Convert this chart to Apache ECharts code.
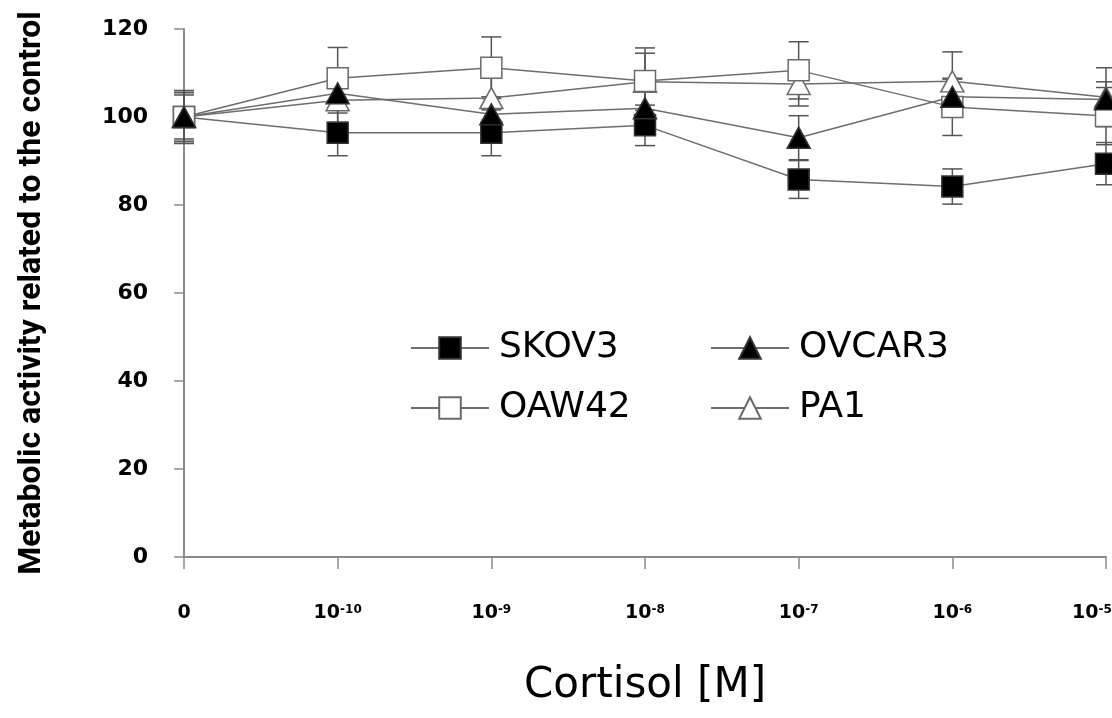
<!DOCTYPE html>
<html>
<head>
<meta charset="utf-8">
<script src="https://cdn.jsdelivr.net/npm/echarts@6/dist/echarts.min.js"></script>
<style>
  html, body { margin: 0; padding: 0; background: #fff; }
  #chart { width: 1112px; height: 718px; }
</style>
</head>
<body>
<div id="chart"></div>
<script>
// cortisol doses (exponent of 10, '0' = control)
const doses = ['0', '-10', '-9', '-8', '-7', '-6', '-5']
const yTicks = [0, 20, 40, 60, 80, 100, 120]

const skov3 = [100, 96.4, 96.4, 98.1, 85.8, 84.2, 89.4]
const skov3Err = [6, 5.2, 5.2, 4.6, 4.3, 4, 4.8]
const ovcar3 = [100, 105.4, 100.6, 102, 95.3, 104.6, 104]
const ovcar3Err = [5.5, 4.5, 4, 4, 5, 4, 4]
const oaw42 = [100, 108.8, 111.2, 108.2, 110.6, 102.3, 100.2]
const oaw42Err = [5, 7, 7, 7.5, 6.5, 6.5, 6.5]
const pa1 = [100, 103.8, 104.3, 108, 107.5, 108.1, 104.5]
const pa1Err = [6, 5, 5, 6.5, 5, 6.7, 6.7]

const LINE = '#6e6e6e'
const AXIS = '#8a8a8a'
const BOLD = 'DejaVu Sans'

function lineSeries (name, data, symbol, fill, size) {
  return {
    name: name,
    type: 'line',
    data: data,
    symbol: symbol,
    symbolSize: size,
    z: 3,
    clip: false,
    lineStyle: { color: LINE, width: 1.5 },
    itemStyle: { color: fill, borderColor: fill === '#fff' ? '#6a6a6a' : '#333', borderWidth: 1.5, opacity: 1 }
  }
}

function errSeries (vals, errs) {
  return {
    type: 'custom',
    z: 2,
    clip: false,
    silent: true,
    data: vals.map((v, i) => [i, v, errs[i]]),
    renderItem: function (params, api) {
      const i = api.value(0)
      const v = api.value(1)
      const e = api.value(2)
      const hi = api.coord([i, v + e])
      const lo = api.coord([i, v - e])
      const w = 10
      const st = { stroke: '#555', lineWidth: 1.5 }
      return {
        type: 'group',
        children: [
          { type: 'line', shape: { x1: hi[0], y1: hi[1], x2: lo[0], y2: lo[1] }, style: st },
          { type: 'line', shape: { x1: hi[0] - w, y1: hi[1], x2: hi[0] + w, y2: hi[1] }, style: st },
          { type: 'line', shape: { x1: lo[0] - w, y1: lo[1], x2: lo[0] + w, y2: lo[1] }, style: st }
        ]
      }
    }
  }
}

const chart = echarts.init(document.getElementById('chart'), null, { renderer: 'canvas' })

const legendBase = {
  orient: 'vertical',
  itemWidth: 78,
  itemHeight: 27,
  itemGap: 24,
  textStyle: { fontFamily: 'DejaVu Sans', fontSize: 36, color: '#000', padding: [0, 0, 0, 5] }
}

const supStyle = { fontFamily: BOLD, fontWeight: 'bold', fontSize: 12, color: '#000', verticalAlign: 'top' }

chart.setOption({
  animation: false,
  backgroundColor: '#fff',
  grid: { left: 184, right: 6, top: 29, bottom: 161, outerBoundsMode: 'none' },
  legend: [
    Object.assign({}, legendBase, { left: 405, top: 325, data: ['SKOV3', 'OAW42'] }),
    Object.assign({}, legendBase, { left: 705, top: 325, data: ['OVCAR3', 'PA1'] })
  ],
  xAxis: {
    type: 'category',
    data: doses,
    boundaryGap: false,
    name: 'Cortisol [M]',
    nameLocation: 'middle',
    nameGap: 108,
    nameTextStyle: { fontFamily: 'DejaVu Sans', fontSize: 42, color: '#000' },
    axisLine: { lineStyle: { color: AXIS, width: 2 } },
    axisTick: { length: 12, lineStyle: { color: AXIS, width: 1.5 } },
    axisLabel: {
      margin: 47,
      formatter: function (d, i) {
        if (d === '0') return '{b|0}'
        // last label sits against the right edge, pull it inwards
        if (i === doses.length - 1) return '{b|10}{sl|' + d + '}'
        return '{b|10}{s|' + d + '}'
      },
      rich: {
        b: { fontFamily: BOLD, fontWeight: 'bold', fontSize: 19, color: '#000' },
        s: supStyle,
        sl: Object.assign({}, supStyle, { padding: [0, 28, 0, 0] })
      }
    }
  },
  yAxis: {
    type: 'value',
    min: 0,
    max: 120,
    interval: 20,
    name: 'Metabolic activity related to the control',
    nameLocation: 'middle',
    nameGap: 136,
    nameRotate: 90,
    nameTextStyle: { fontFamily: 'Roboto', fontWeight: 'bold', fontSize: 32, color: '#000' },
    splitLine: { show: false },
    axisLine: { show: true, lineStyle: { color: AXIS, width: 2 } },
    axisTick: { show: true, length: 10, lineStyle: { color: AXIS, width: 1.5 } },
    axisLabel: {
      margin: 36,
      fontFamily: BOLD,
      fontWeight: 'bold',
      fontSize: 22,
      color: '#000',
      formatter: v => (yTicks.includes(v) ? String(v) : '')
    }
  },
  series: [
    errSeries(skov3, skov3Err),
    errSeries(pa1, pa1Err),
    errSeries(oaw42, oaw42Err),
    errSeries(ovcar3, ovcar3Err),
    lineSeries('SKOV3', skov3, 'rect', '#000', [21, 21]),
    lineSeries('PA1', pa1, 'triangle', '#fff', [23, 21]),
    lineSeries('OAW42', oaw42, 'rect', '#fff', [21, 21]),
    lineSeries('OVCAR3', ovcar3, 'triangle', '#000', [23, 21])
  ]
})
</script>
</body>
</html>
